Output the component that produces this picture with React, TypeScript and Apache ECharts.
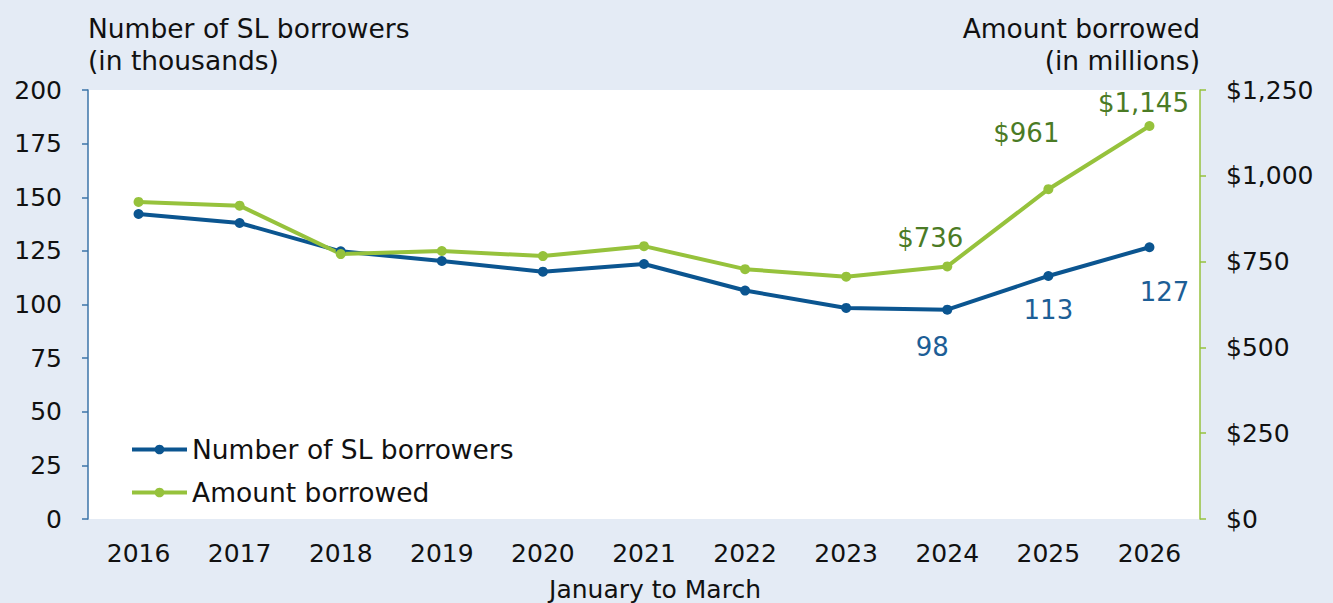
import React, { useEffect, useRef } from "react";
import * as echarts from "echarts";

const years = ["2016", "2017", "2018", "2019", "2020", "2021", "2022", "2023", "2024", "2025", "2026"];
const borrowers = [142.2, 138, 124.8, 120.3, 115.3, 118.9, 106.5, 98.4, 97.6, 113.3, 126.7];
const amounts = [924, 913, 772, 781, 766, 795, 728, 706, 736, 961, 1145];
const borrowerLabels: (string | null)[] = [null, null, null, null, null, null, null, null, "98", "113", "127"];
const amountLabels: (string | null)[] = [null, null, null, null, null, null, null, null, "$736", "$961", "$1,145"];
const leftTicks = [0, 25, 50, 75, 100, 125, 150, 175, 200];
const rightTicks = [0, 250, 500, 750, 1000, 1250];

const BLUE = "#0b5590";
const GREEN = "#96c23c";
const BLUE_TXT = "#1d5e96";
const GREEN_TXT = "#4b7b25";
const FONT = "DejaVu Sans";

const borrowerOffsets: Record<number, [number, number]> = { 8: [-15, 37], 9: [0, 34], 10: [15, 45] };
const amountOffsets: Record<number, [number, number]> = { 8: [-17, -28], 9: [-22, -56], 10: [-6, -23] };

export default function App() {
  const ref = useRef<HTMLDivElement>(null);
  useEffect(() => {
    document.body.style.margin = "0";
    const chart = echarts.init(ref.current!, null, { renderer: "svg" });
    const fmtMoney = (v: number) => "$" + v.toLocaleString("en-US");
    chart.setOption({
      animation: false,
      backgroundColor: "#e4ebf5",
      textStyle: { fontFamily: FONT },
      grid: {
        left: 88,
        right: 133,
        top: 90,
        bottom: 84,
        show: true,
        backgroundColor: "#ffffff",
        borderWidth: 0,
        containLabel: false,
        outerBoundsMode: "none",
      },
      legend: {
        orient: "vertical",
        left: 130,
        top: 436,
        padding: 0,
        itemWidth: 55,
        itemHeight: 12,
        itemGap: 16,
        lineStyle: { width: 4 },
        textStyle: { fontFamily: FONT, fontSize: 26.5, color: "#111" },
        data: ["Number of SL borrowers", "Amount borrowed"],
      },
      graphic: [
        {
          type: "text",
          x: 88,
          y: 12,
          style: { text: "Number of SL borrowers\n(in thousands)", font: `26.5px '${FONT}'`, fill: "#111", lineHeight: 32, align: "left" },
        },
        {
          type: "text",
          x: 1200,
          y: 12,
          style: { text: "Amount borrowed\n(in millions)", font: `26.5px '${FONT}'`, fill: "#111", lineHeight: 32, align: "right" },
        },
      ],
      xAxis: {
        type: "category",
        data: years,
        boundaryGap: true,
        axisLine: { show: false },
        axisTick: { show: false },
        axisLabel: { fontSize: 25, color: "#111", margin: 22, fontFamily: FONT },
        name: "January to March",
        nameLocation: "middle",
        nameGap: 58,
        nameTextStyle: { fontSize: 25, color: "#111", fontFamily: FONT, padding: [0, 0, 0, 22] },
      },
      yAxis: [
        {
          type: "value",
          min: leftTicks[0],
          max: leftTicks[leftTicks.length - 1],
          interval: 25,
          position: "left",
          splitLine: { show: false },
          axisLine: { show: true, lineStyle: { color: "#3d75a8", width: 1.5 } },
          axisTick: { show: true, inside: false, length: 6, lineStyle: { color: "#3d75a8", width: 1.5 } },
          axisLabel: { fontSize: 25, color: "#111", margin: 26, fontFamily: FONT },
        },
        {
          type: "value",
          min: rightTicks[0],
          max: rightTicks[rightTicks.length - 1],
          interval: 250,
          position: "right",
          splitLine: { show: false },
          axisLine: { show: true, lineStyle: { color: GREEN, width: 1.5 } },
          axisTick: { show: true, inside: false, length: 6, lineStyle: { color: GREEN, width: 1.5 } },
          axisLabel: { fontSize: 25, color: "#111", margin: 26, fontFamily: FONT, formatter: fmtMoney },
        },
      ],
      series: [
        {
          name: "Number of SL borrowers",
          type: "line",
          yAxisIndex: 0,
          symbol: "circle",
          symbolSize: 10,
          itemStyle: { color: BLUE },
          lineStyle: { color: BLUE, width: 4 },
          data: borrowers.map((v, i) => ({
            value: v,
            label: borrowerLabels[i]
              ? {
                  show: true,
                  position: "inside",
                  formatter: borrowerLabels[i],
                  offset: borrowerOffsets[i],
                  color: BLUE_TXT,
                  fontSize: 26,
                  fontFamily: FONT,
                }
              : { show: false },
          })),
        },
        {
          name: "Amount borrowed",
          type: "line",
          yAxisIndex: 1,
          symbol: "circle",
          symbolSize: 10,
          itemStyle: { color: GREEN },
          lineStyle: { color: GREEN, width: 4 },
          data: amounts.map((v, i) => ({
            value: v,
            label: amountLabels[i]
              ? {
                  show: true,
                  position: "inside",
                  formatter: amountLabels[i],
                  offset: amountOffsets[i],
                  color: GREEN_TXT,
                  fontSize: 26,
                  fontFamily: FONT,
                }
              : { show: false },
          })),
        },
      ],
    });
    return () => chart.dispose();
  }, []);
  return <div ref={ref} style={{ width: 1333, height: 603 }} />;
}
